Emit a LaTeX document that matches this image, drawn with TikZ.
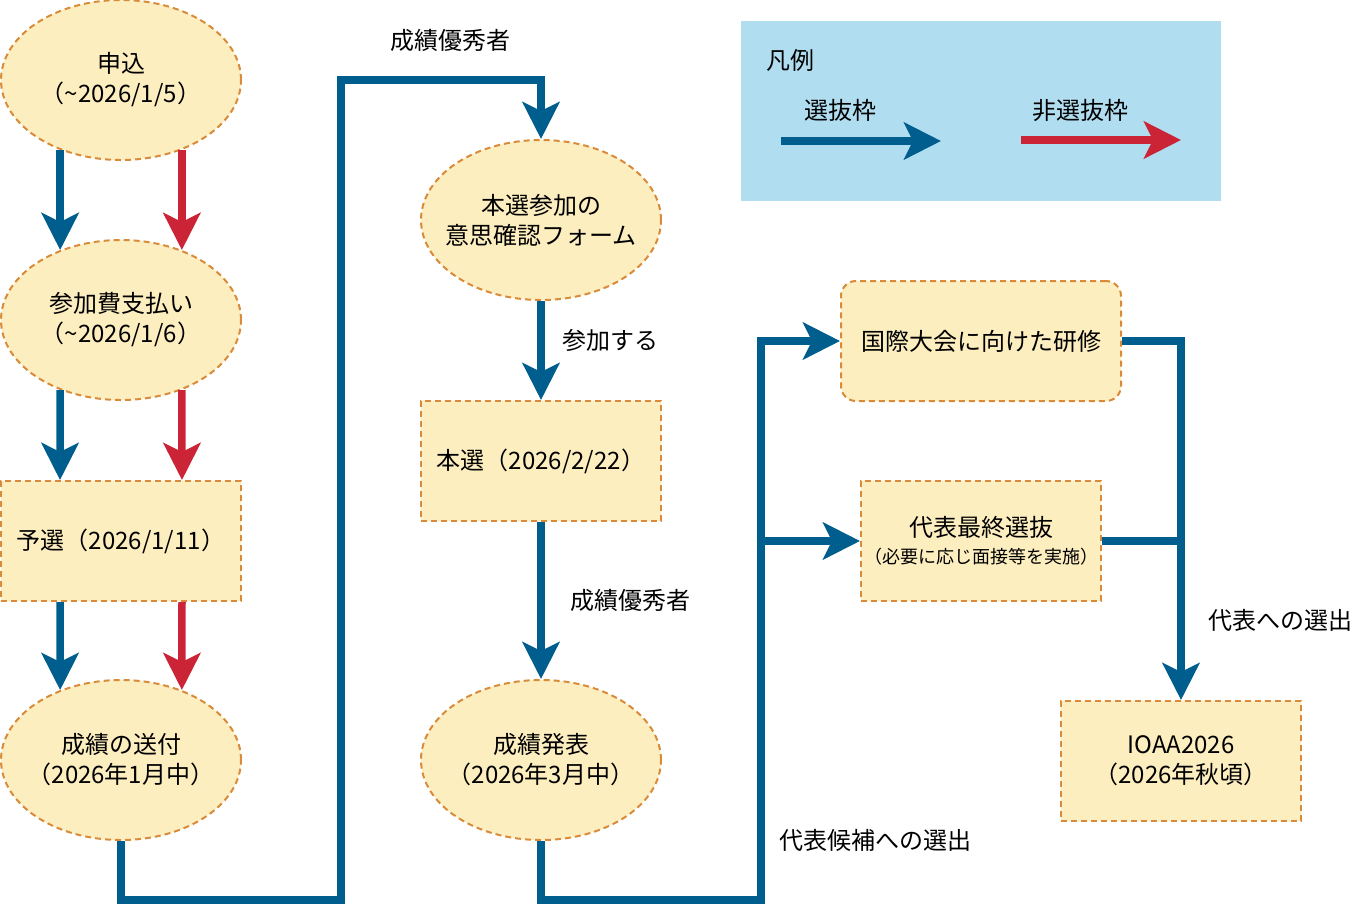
\documentclass[tikz,border=0pt]{standalone}
\usepackage{fontspec}
\setmainfont{Noto Sans CJK JP}
\usetikzlibrary{shapes.geometric,arrows.meta}
\definecolor{boxfill}{HTML}{FDEEC0}
\definecolor{boxline}{HTML}{D98B3A}
\definecolor{selblue}{HTML}{005E8E}
\definecolor{nonred}{HTML}{CC2437}
\definecolor{legendfill}{HTML}{B1DDF0}
\begin{document}
\begin{tikzpicture}[x=1pt,y=-1pt,
  every node/.style={font=\fontsize{24}{30}\selectfont, inner sep=0pt},
  stagebase/.style={draw=boxline, fill=boxfill, line width=2pt, dash pattern=on 6pt off 4pt, align=center},
  oval/.style={stagebase, ellipse, minimum width=240pt, minimum height=160pt},
  card/.style={stagebase, rectangle, minimum width=240pt, minimum height=120pt},
  ovaltext/.style={label={[text=black, align=center, inner sep=0pt]center:#1}},
  bluearrow/.style={color=selblue, line width=7.5pt, -{Stealth[length=37pt,width=37pt,inset=9pt]}},
  redarrow/.style={color=nonred, line width=7.5pt, -{Stealth[length=37pt,width=37pt,inset=9pt]}},
  blueline/.style={color=selblue, line width=7.5pt},
  lbl/.style={text=black}
]
\useasboundingbox (0,0) rectangle (1362,922);

% legend
\node[fill=legendfill, minimum width=480pt, minimum height=180pt] (legend) at (981,111) {};
\node[lbl] (legtitle) at (790,60) {凡例};
\node[lbl] (legsel) at (840,110) {選抜枠};
\node[lbl] (legnon) at (1080,110) {非選抜枠};
\coordinate (ls1) at (781,141);
\coordinate (ls2) at (941,141);
\coordinate (ln1) at (1021,140);
\coordinate (ln2) at (1181,140);
\draw[bluearrow] (ls1) -- (ls2);
\draw[redarrow] (ln1) -- (ln2);

% left column
\node[oval, ovaltext={申込\\（\textasciitilde 2026/1/5）}] (apply) at (121,80) {};
\node[oval, ovaltext={参加費支払い\\（\textasciitilde 2026/1/6）}] (pay) at (121,320) {};
\node[card] (pre) at (121,541) {予選（2026/1/11）};
\node[oval, ovaltext={成績の送付\\（2026年1月中）}] (send) at (121,760) {};

\draw[bluearrow] (apply.229) -- (pay.131);
\draw[redarrow] (apply.311) -- (pay.49);
\draw[bluearrow] (pay.229) -- ([xshift=60pt]pre.north west);
\draw[redarrow] (pay.311) -- ([xshift=-60pt]pre.north east);
\draw[bluearrow] ([xshift=60pt]pre.south west) -- (send.131);
\draw[redarrow] ([xshift=-60pt]pre.south east) -- (send.49);

% middle column
\node[oval, ovaltext={本選参加の\\意思確認フォーム}] (will) at (541,220) {};
\node[card] (final1) at (541,461) {本選（2026/2/22）};
\node[oval, ovaltext={成績発表\\（2026年3月中）}] (result) at (541,760) {};

\coordinate (c1) at (341,900);
\coordinate (c2) at (541,80);
\draw[bluearrow] (send.south) |- (c1) |- (c2) -- (will.north);
\node[lbl] (t1) at (450,40) {成績優秀者};

\draw[bluearrow] (will.south) -- (final1.north);
\node[lbl] (t2) at (610,340) {参加する};
\draw[bluearrow] (final1.south) -- (result.north);
\node[lbl] (t3) at (630,600) {成績優秀者};

% right part
\node[stagebase, rounded corners=15pt, minimum width=280pt, minimum height=120pt] (train) at (981,341) {国際大会に向けた研修};
\node[card] (select) at (981,541) {代表最終選抜\\[-3pt]{\fontsize{18}{22}\selectfont （必要に応じ面接等を実施）}};
\node[card] (ioaa) at (1181,761) {IOAA2026\\（2026年秋頃）};

\coordinate (c3) at (761,900);
\coordinate (c4) at (761,541);
\draw[bluearrow] (result.south) |- (c3) |- (train.west);
\draw[bluearrow] (c4) -- (select.west);
\node[lbl] (t4) at (875,840) {代表候補への選出};

\draw[bluearrow] (train.east) -| (ioaa.north);
\draw[blueline] (select.east) -- (select.east -| ioaa.north);
\node[lbl] (t5) at (1280,620) {代表への選出};
\end{tikzpicture}
\end{document}
